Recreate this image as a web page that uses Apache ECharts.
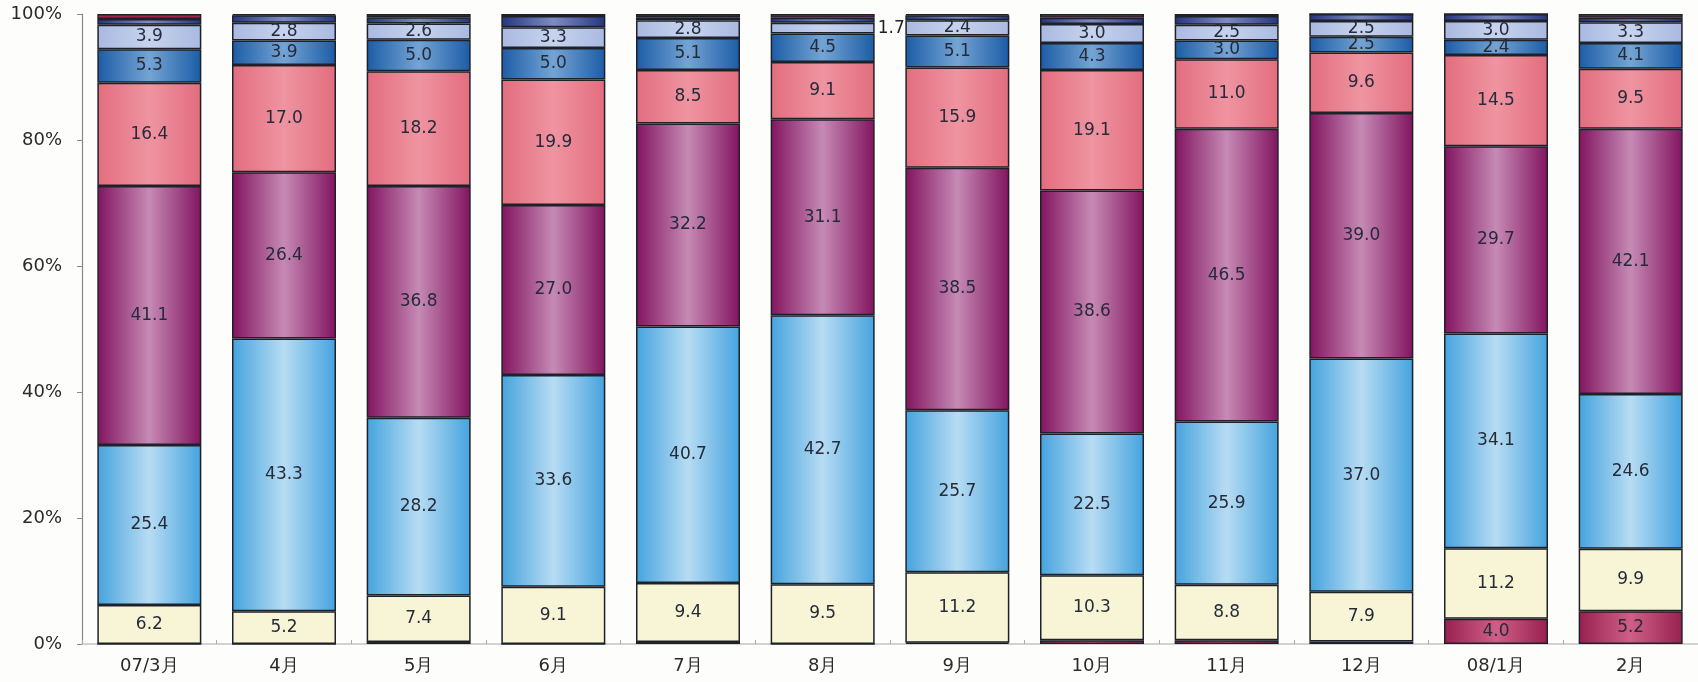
<!DOCTYPE html>
<html>
<head>
<meta charset="utf-8">
<script src="https://cdn.jsdelivr.net/npm/echarts@6/dist/echarts.min.js"></script>
<style>
  html, body { margin: 0; padding: 0; background: #fdfdfb; }
  #chart { width: 1698px; height: 682px; }
</style>
</head>
<body>
<div id="chart"></div>
<script>
// Monthly share breakdown (percent of total), stacked bottom to top
const categories = ['07/3月', '4月', '5月', '6月', '7月', '8月', '9月', '10月', '11月', '12月', '08/1月', '2月'];
const bottomRed = [0, 0, 0.3, 0, 0.3, 0, 0.2, 0.6, 0.6, 0.4, 4.0, 5.2];
const yellow    = [6.2, 5.2, 7.4, 9.1, 9.4, 9.5, 11.2, 10.3, 8.8, 7.9, 11.2, 9.9];
const lightBlue = [25.4, 43.3, 28.2, 33.6, 40.7, 42.7, 25.7, 22.5, 25.9, 37.0, 34.1, 24.6];
const purple    = [41.1, 26.4, 36.8, 27.0, 32.2, 31.1, 38.5, 38.6, 46.5, 39.0, 29.7, 42.1];
const pink      = [16.4, 17.0, 18.2, 19.9, 8.5, 9.1, 15.9, 19.1, 11.0, 9.6, 14.5, 9.5];
const blue      = [5.3, 3.9, 5.0, 5.0, 5.1, 4.5, 5.1, 4.3, 3.0, 2.5, 2.4, 4.1];
const lavender  = [3.9, 2.8, 2.6, 3.3, 2.8, 1.7, 2.4, 3.0, 2.5, 2.5, 3.0, 3.3];
const navy      = [0.9, 1.2, 1.0, 1.8, 0.5, 0.8, 0.8, 1.0, 1.4, 1.1, 1.1, 0.7];
const topRed    = [0.8, 0.2, 0.5, 0.3, 0.5, 0.6, 0.2, 0.6, 0.3, 0, 0, 0.6];
const yTicks    = [0, 20, 40, 60, 80, 100];

const chart = echarts.init(document.getElementById('chart'));

// horizontal "cylinder" shading: darker edges, lighter middle
function shade(edge, mid) {
  return new echarts.graphic.LinearGradient(0, 0, 1, 0, [
    { offset: 0, color: edge },
    { offset: 0.5, color: mid },
    { offset: 1, color: edge }
  ]);
}

const labelFont = {
  fontFamily: 'DejaVu Sans',
  fontSize: 17,
  color: '#262b3a'
};

function makeSeries(name, values, color, showLabels) {
  return {
    name: name,
    type: 'bar',
    stack: 'share',
    barWidth: 104,
    itemStyle: { color: color, borderColor: '#1e2228', borderWidth: 1.5 },
    label: Object.assign({
      show: showLabels,
      position: 'inside',
      formatter: p => (p.value >= 2 ? p.value.toFixed(1) : '')
    }, labelFont),
    emphasis: { disabled: true },
    data: values.map(v => v)
  };
}

const lavenderSeries = makeSeries('lavender', lavender, shade('#a9b9e0', '#c7d3ee'), true);
// small value drawn beside the bar instead of inside
lavenderSeries.data = lavender.map(v => v < 2 ? {
  value: v,
  label: {
    show: true, position: 'right', distance: 3,
    formatter: p => p.value.toFixed(1),
    color: '#222', fontSize: 17, fontFamily: 'DejaVu Sans'
  }
} : v);

const option = {
  backgroundColor: '#fdfdfb',
  animation: false,
  grid: { left: 82, top: 14, width: 1632, height: 630 },
  xAxis: {
    type: 'category',
    data: categories,
    axisLine: { lineStyle: { color: '#c4c4c4', width: 1.5 } },
    axisTick: { show: true, inside: true, length: 4, lineStyle: { color: '#aaa' } },
    axisLabel: {
      fontFamily: 'DejaVu Sans', fontSize: 18, color: '#2a2a2a', margin: 13
    }
  },
  yAxis: {
    type: 'value',
    min: yTicks[0],
    max: yTicks[yTicks.length - 1],
    interval: 20,
    axisLine: { show: true, lineStyle: { color: '#8a8a8a', width: 1.2 } },
    axisTick: { show: true, length: 5, lineStyle: { color: '#8a8a8a' } },
    splitLine: { show: false },
    axisLabel: {
      formatter: '{value}%',
      fontFamily: 'DejaVu Sans', fontSize: 18, color: '#2a2a2a', margin: 20
    }
  },
  series: [
    makeSeries('bottomRed', bottomRed, shade('#98204f', '#cf5f86'), true),
    makeSeries('yellow', yellow, '#f8f5d6', true),
    makeSeries('lightBlue', lightBlue, shade('#45a3de', '#b7dcf3'), true),
    makeSeries('purple', purple, shade('#82145f', '#c68ab5'), true),
    makeSeries('pink', pink, shade('#e26d7e', '#ef94a1'), true),
    makeSeries('blue', blue, shade('#1c5ca6', '#74a4d4'), true),
    lavenderSeries,
    makeSeries('navy', navy, shade('#26367f', '#7f8cc4'), false),
    makeSeries('topRed', topRed, '#a0244f', false)
  ]
};

chart.setOption(option);
</script>
</body>
</html>
